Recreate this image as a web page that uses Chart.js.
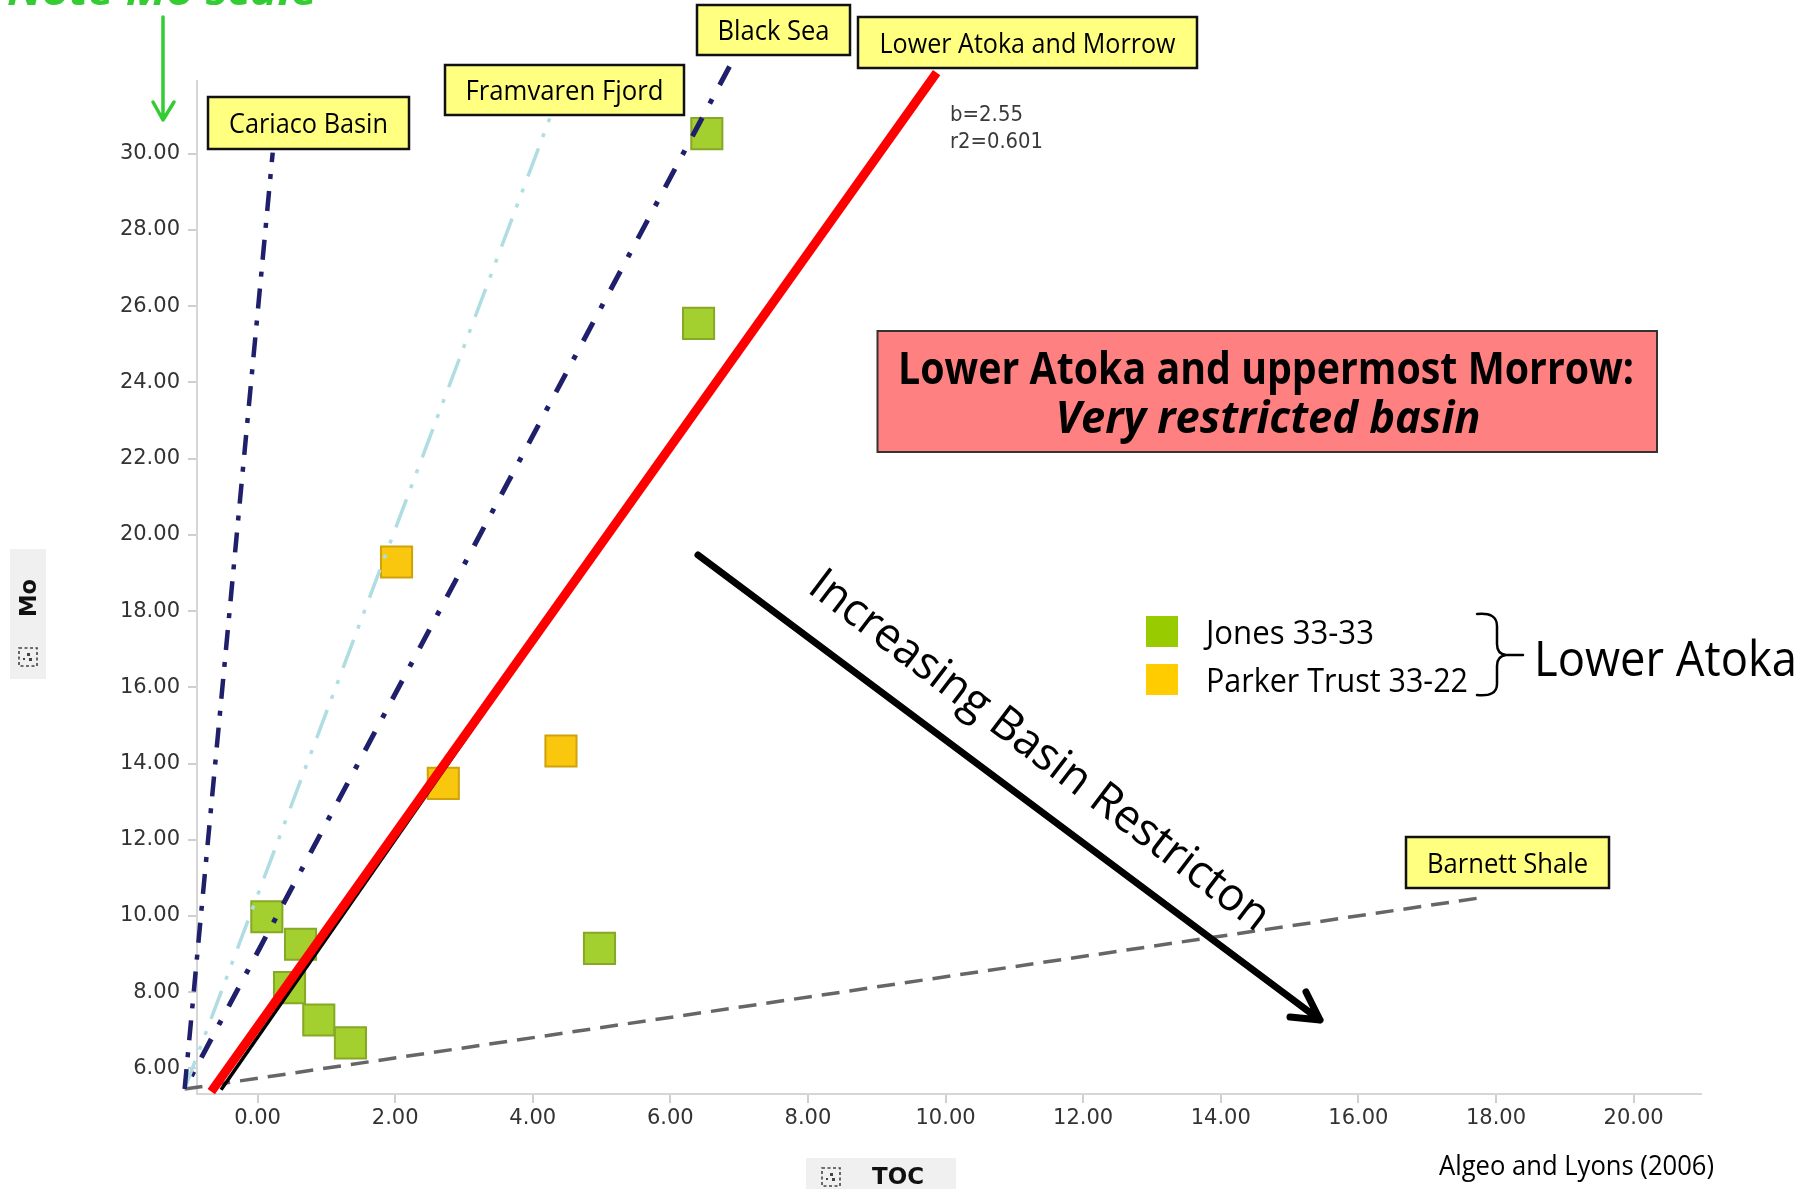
<!DOCTYPE html>
<html>
<head>
<meta charset="utf-8">
<title>Mo vs TOC – Lower Atoka</title>
<script src="https://cdn.jsdelivr.net/npm/chart.js@4.4.1/dist/chart.umd.min.js"></script>
<style>
  html, body { margin: 0; padding: 0; background: #fff; overflow: hidden; }
  canvas { display: block; }
</style>
</head>
<body>
<canvas id="chart" width="1808" height="1189"></canvas>
<script>
// ---- Sample data: TOC (wt%) and Mo (ppm) ----
const jonesTOC  = [6.53, 6.41, 0.135, 0.625, 0.465, 0.89, 1.35, 4.97];
const jonesMo   = [30.53, 25.55, 9.98, 9.26, 8.12, 7.27, 6.67, 9.15];
const parkerTOC = [2.02, 2.70, 4.41];
const parkerMo  = [19.29, 13.48, 14.33];

// ---- Modern basin Mo/TOC trends (Algeo and Lyons, 2006): end points ----
const cariacoTOC   = [-1.06, 0.22];  const cariacoMo   = [5.46, 30.03];
const framvarenTOC = [-1.06, 4.26];  const framvarenMo = [5.46, 30.99];
const blackSeaTOC  = [6.86, -1.06];  const blackSeaMo  = [32.29, 5.46];
const barnettTOC   = [-1.06, 17.82]; const barnettMo   = [5.46, 10.49];

// ---- Lower Atoka and Morrow regression (b = 2.55, r2 = 0.601) ----
const atokaTOC       = [-0.673, 9.87]; const atokaMo       = [5.39, 32.13];
const atokaShadowTOC = [-0.53, 5.0];   const atokaShadowMo = [5.44, 19.78];

// ---- Axes ----
const xTicks = [0, 2, 4, 6, 8, 10, 12, 14, 16, 18, 20];
const yTicks = [6, 8, 10, 12, 14, 16, 18, 20, 22, 24, 26, 28, 30];
const xRange = [-0.88, 20.98];
const yRange = [5.33, 31.91];

const seriesNames = ['Jones 33-33', 'Parker Trust 33-22'];
const legendColors = ['#99cc00', '#ffcc00'];

const pairs = (xs, ys) => xs.map((x, i) => ({ x: x, y: ys[i] }));

function trend(label, xs, ys, color, width, dash, order) {
  return {
    label: label,
    data: pairs(xs, ys),
    showLine: true,
    borderColor: color,
    backgroundColor: color,
    borderWidth: width,
    borderDash: dash,
    borderCapStyle: 'butt',
    pointRadius: 0,
    pointHoverRadius: 0,
    fill: false,
    clip: false,
    order: order
  };
}

// Draw text squeezed or stretched horizontally to a given width
function fitText(ctx, text, x, y, font, width, align, color) {
  ctx.save();
  ctx.font = font;
  ctx.fillStyle = color || '#000';
  ctx.textBaseline = 'alphabetic';
  const w = ctx.measureText(text).width;
  const s = width / w;
  ctx.translate(x, y);
  ctx.scale(s, 1);
  ctx.textAlign = align || 'left';
  ctx.fillText(text, 0, 0);
  ctx.restore();
}

function labelBox(ctx, x0, y0, x1, y1, text, textWidth) {
  ctx.save();
  ctx.fillStyle = '#ffff80';
  ctx.strokeStyle = '#111';
  ctx.lineWidth = 2.5;
  ctx.fillRect(x0, y0, x1 - x0, y1 - y0);
  ctx.strokeRect(x0, y0, x1 - x0, y1 - y0);
  ctx.restore();
  fitText(ctx, text, (x0 + x1) / 2, (y0 + y1) / 2 + 10, '27px "Open Sans"', textWidth, 'center', '#000');
}

function selectIcon(ctx, cx, cy) {
  ctx.save();
  ctx.strokeStyle = '#444';
  ctx.lineWidth = 1.6;
  ctx.setLineDash([3, 2.5]);
  ctx.strokeRect(cx - 9, cy - 9, 18, 18);
  ctx.setLineDash([]);
  ctx.fillStyle = '#444';
  ctx.fillRect(cx - 1, cy - 4, 3, 3);
  ctx.fillRect(cx + 1, cy + 1, 3, 3);
  ctx.fillRect(cx - 5, cy + 1, 2, 2);
  ctx.restore();
}

const annotations = {
  id: 'annotations',
  afterDraw(chart) {
    const ctx = chart.ctx;

    // Axis title tabs
    ctx.save();
    ctx.fillStyle = '#f0f0f0';
    ctx.fillRect(10, 549, 36, 130);
    ctx.fillRect(806, 1158, 150, 31);
    ctx.restore();
    ctx.save();
    ctx.translate(28, 598);
    ctx.rotate(-Math.PI / 2);
    fitText(ctx, 'Mo', 0, 8, 'bold 23px "DejaVu Sans"', 38, 'center', '#111');
    ctx.restore();
    selectIcon(ctx, 28, 657);
    selectIcon(ctx, 831, 1177);
    fitText(ctx, 'TOC', 872, 1184, 'bold 23px "DejaVu Sans"', 52, 'left', '#111');

    // Regression statistics
    fitText(ctx, 'b=2.55', 950, 121, '21px "DejaVu Sans"', 73, 'left', '#3a3a3a');
    fitText(ctx, 'r2=0.601', 950, 148, '21px "DejaVu Sans"', 93, 'left', '#3a3a3a');

    // Trend labels
    labelBox(ctx, 208, 97, 409, 149, 'Cariaco Basin', 159);
    labelBox(ctx, 445, 65, 684, 115, 'Framvaren Fjord', 198);
    labelBox(ctx, 697, 5, 850, 55, 'Black Sea', 112);
    labelBox(ctx, 858, 17, 1197, 68, 'Lower Atoka and Morrow', 296);
    labelBox(ctx, 1406, 837, 1609, 888, 'Barnett Shale', 161);

    // Interpretation box
    ctx.save();
    ctx.fillStyle = '#ff8080';
    ctx.strokeStyle = '#333';
    ctx.lineWidth = 2;
    ctx.fillRect(877.5, 331, 779.5, 121);
    ctx.strokeRect(877.5, 331, 779.5, 121);
    ctx.restore();
    fitText(ctx, 'Lower Atoka and uppermost Morrow:', 1266, 384, 'bold 44px "Open Sans"', 736, 'center', '#000');
    fitText(ctx, 'Very restricted basin', 1268, 433, 'italic bold 44px "Open Sans"', 425, 'center', '#000');

    // Restriction arrow
    ctx.save();
    ctx.strokeStyle = '#000';
    ctx.lineWidth = 7;
    ctx.lineCap = 'round';
    ctx.lineJoin = 'round';
    ctx.beginPath();
    ctx.moveTo(698, 555);
    ctx.lineTo(1320, 1020);
    ctx.moveTo(1306, 992);
    ctx.lineTo(1320, 1020);
    ctx.lineTo(1290, 1017);
    ctx.stroke();
    ctx.restore();
    ctx.save();
    ctx.translate(806, 591);
    ctx.rotate(37.2 * Math.PI / 180);
    fitText(ctx, 'Increasing Basin Restricton', 0, 0, '46px "Open Sans"', 565, 'left', '#000');
    ctx.restore();

    // Legend
    const legendY = [616, 664];
    const legendText = [168, 262];
    seriesNames.forEach((name, i) => {
      ctx.fillStyle = legendColors[i];
      ctx.fillRect(1146, legendY[i], 32, 31);
      fitText(ctx, name, 1206, legendY[i] + 28, '32px "Open Sans"', legendText[i], 'left', '#000');
    });

    // Brace grouping both wells
    ctx.save();
    ctx.strokeStyle = '#000';
    ctx.lineWidth = 2.5;
    ctx.lineCap = 'round';
    ctx.beginPath();
    ctx.moveTo(1477, 614);
    ctx.quadraticCurveTo(1497, 612, 1497, 626);
    ctx.lineTo(1497, 644);
    ctx.quadraticCurveTo(1497, 654, 1506, 655);
    ctx.quadraticCurveTo(1497, 656, 1497, 666);
    ctx.lineTo(1497, 684);
    ctx.quadraticCurveTo(1497, 697, 1477, 695);
    ctx.moveTo(1506, 655);
    ctx.lineTo(1523, 655);
    ctx.stroke();
    ctx.restore();
    fitText(ctx, 'Lower Atoka', 1534, 676, '50px "Open Sans"', 263, 'left', '#000');

    // Source
    fitText(ctx, 'Algeo and Lyons (2006)', 1439, 1175, '27px "Open Sans"', 275, 'left', '#000');

    // Scale note
    fitText(ctx, 'Note Mo scale', 7, 5, 'italic bold 42px "Open Sans"', 310, 'left', '#33cc33');
    ctx.save();
    ctx.strokeStyle = '#33cc33';
    ctx.lineWidth = 3.5;
    ctx.lineCap = 'round';
    ctx.lineJoin = 'round';
    ctx.beginPath();
    ctx.moveTo(163, 17);
    ctx.lineTo(163, 120);
    ctx.moveTo(153, 102);
    ctx.lineTo(163, 120);
    ctx.lineTo(174, 102);
    ctx.stroke();
    ctx.restore();
  }
};

const tickFont = { family: 'DejaVu Sans', size: 21 };

new Chart(document.getElementById('chart'), {
  type: 'scatter',
  data: {
    datasets: [
      trend('Lower Atoka and Morrow', atokaTOC, atokaMo, '#ff0000', 9, [], 0),
      trend('Lower Atoka and Morrow (edge)', atokaShadowTOC, atokaShadowMo, '#000000', 3.5, [], 1),
      trend('Cariaco Basin', cariacoTOC, cariacoMo, '#1f1f6b', 4.5, [20, 12, 5, 12], 2),
      trend('Framvaren Fjord', framvarenTOC, framvarenMo, '#b0dde2', 3.5, [30, 12, 4, 12, 4, 13], 3),
      trend('Black Sea', blackSeaTOC, blackSeaMo, '#1f1f6b', 5, [21, 16, 5, 16], 4),
      trend('Barnett Shale', barnettTOC, barnettMo, '#666666', 3.5, [18, 10], 5),
      {
        label: seriesNames[0],
        data: pairs(jonesTOC, jonesMo),
        pointStyle: 'rect',
        pointRadius: 22,
        pointHoverRadius: 22,
        backgroundColor: '#a3cf2f',
        borderColor: '#86a826',
        borderWidth: 2,
        order: 10
      },
      {
        label: seriesNames[1],
        data: pairs(parkerTOC, parkerMo),
        pointStyle: 'rect',
        pointRadius: 22,
        pointHoverRadius: 22,
        backgroundColor: '#f9c80e',
        borderColor: '#cfa20a',
        borderWidth: 2,
        order: 11
      }
    ]
  },
  options: {
    responsive: false,
    animation: false,
    devicePixelRatio: 1,
    layout: { padding: { left: 0, right: 107, top: 81, bottom: 0 } },
    plugins: { legend: { display: false }, tooltip: { enabled: false } },
    scales: {
      x: {
        type: 'linear',
        min: xRange[0],
        max: xRange[1],
        afterBuildTicks: s => { s.ticks = xTicks.map(v => ({ value: v })); },
        afterFit: s => { s.height = 95; },
        grid: { drawOnChartArea: false, drawTicks: true, tickLength: 9, color: '#cfcfcf', lineWidth: 2 },
        border: { display: true, color: '#d6d6d6', width: 2 },
        ticks: { font: tickFont, color: '#333', padding: 3, maxRotation: 0, autoSkip: false,
                 callback: v => Number(v).toFixed(2) }
      },
      y: {
        type: 'linear',
        min: yRange[0],
        max: yRange[1],
        afterBuildTicks: s => { s.ticks = yTicks.map(v => ({ value: v })); },
        afterFit: s => { s.width = 197; },
        grid: { drawOnChartArea: false, drawTicks: true, tickLength: 9, color: '#cfcfcf', lineWidth: 2 },
        border: { display: true, color: '#d6d6d6', width: 2 },
        ticks: { font: tickFont, color: '#333', padding: 8, autoSkip: false,
                 callback: v => Number(v).toFixed(2) }
      }
    }
  },
  plugins: [annotations]
});
</script>
</body>
</html>
